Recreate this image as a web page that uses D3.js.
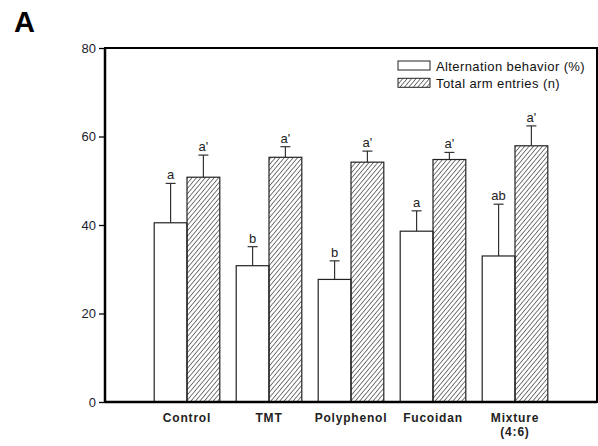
<!DOCTYPE html>
<html>
<head>
<meta charset="utf-8">
<script src="https://cdn.jsdelivr.net/npm/d3@7"></script>
<style>
  body { margin: 0; background: #fff; }
  svg text { font-family: Arial, "Liberation Sans", sans-serif; }
</style>
</head>
<body>
<div id="chart"></div>
<script>
// data
var groups = ["Control", "TMT", "Polyphenol", "Fucoidan", "Mixture (4:6)"];
var alternation = [40.5, 30.8, 27.7, 38.6, 33.0];
var alternationErr = [8.9, 4.3, 4.2, 4.6, 11.7];
var alternationSig = ["a", "b", "b", "a", "ab"];
var entries = [50.8, 55.3, 54.2, 54.8, 57.9];
var entriesErr = [5.0, 2.4, 2.5, 1.6, 4.5];
var entriesSig = ["a'", "a'", "a'", "a'", "a'"];
var yTicks = [0, 20, 40, 60, 80];
var legendLabels = ["Alternation behavior (%)", "Total arm entries (n)"];

var margin = {top: 48, right: 1, bottom: 44, left: 105},
    width = 598 - margin.left - margin.right,
    height = 446 - margin.top - margin.bottom;

var svg = d3.select("#chart")
    .append("svg")
    .attr("width", 598)
    .attr("height", 446);

var defs = svg.append("defs");
defs.append("pattern")
    .attr("id", "hatch")
    .attr("patternUnits", "userSpaceOnUse")
    .attr("width", 3.4)
    .attr("height", 4)
    .attr("patternTransform", "rotate(40)")
    .append("line")
    .attr("x1", 0).attr("y1", 0)
    .attr("x2", 0).attr("y2", 4)
    .attr("stroke", "#222")
    .attr("stroke-width", 1.2);

svg.append("text")
    .attr("x", 14)
    .attr("y", 32)
    .style("font-size", "29px")
    .style("font-weight", "bold")
    .text("A");

var g = svg.append("g")
    .attr("transform", "translate(" + margin.left + "," + margin.top + ")");

var x = d3.scaleLinear().domain([0, 6]).range([0, width]);
var y = d3.scaleLinear().domain([0, 80]).range([height, 0]);
var barW = x(0.4) - x(0);

// frame
g.append("rect")
    .attr("x", 0).attr("y", 0)
    .attr("width", width).attr("height", height)
    .attr("fill", "none")
    .attr("stroke", "#000")
    .attr("stroke-width", 2);

var yAxis = g.append("g")
    .call(d3.axisLeft(y).tickValues(yTicks).tickSize(6).tickPadding(3));
yAxis.select(".domain").remove();
yAxis.selectAll("line").attr("stroke-width", 1.3);
yAxis.selectAll("text").style("font-size", "13px").attr("fill", "#1a1a2e");

function drawSeries(name, vals, errs, sigs, offset, fill) {
    var bars = g.selectAll("." + name)
        .data(vals)
        .enter();
    bars.append("line")
        .attr("x1", function(d, i) { return x(i + 1 + offset + 0.2); })
        .attr("x2", function(d, i) { return x(i + 1 + offset + 0.2); })
        .attr("y1", function(d) { return y(d); })
        .attr("y2", function(d, i) { return y(d + errs[i]); })
        .attr("stroke", "#333")
        .attr("stroke-width", 1.2);
    bars.append("line")
        .attr("x1", function(d, i) { return x(i + 1 + offset + 0.2) - 5; })
        .attr("x2", function(d, i) { return x(i + 1 + offset + 0.2) + 5; })
        .attr("y1", function(d, i) { return y(d + errs[i]); })
        .attr("y2", function(d, i) { return y(d + errs[i]); })
        .attr("stroke", "#333")
        .attr("stroke-width", 1.2);
    bars.append("rect")
        .attr("class", name)
        .attr("x", function(d, i) { return x(i + 1 + offset); })
        .attr("y", function(d) { return y(d); })
        .attr("width", barW)
        .attr("height", function(d) { return height - y(d); })
        .attr("fill", fill)
        .attr("stroke", "#222")
        .attr("stroke-width", 1.2);
    bars.append("text")
        .attr("x", function(d, i) { return x(i + 1 + offset + 0.2); })
        .attr("y", function(d, i) { return y(d + errs[i]) - 4; })
        .attr("text-anchor", "middle")
        .style("font-size", "13px")
        .attr("fill", "#222")
        .text(function(d, i) { return sigs[i]; });
}

drawSeries("alt", alternation, alternationErr, alternationSig, -0.4, "#fff");
drawSeries("ent", entries, entriesErr, entriesSig, 0, "url(#hatch)");

// redraw bottom and left edge over bars
g.append("line").attr("x1", 0).attr("x2", width).attr("y1", height).attr("y2", height)
    .attr("stroke", "#000").attr("stroke-width", 2.5);
g.append("line").attr("x1", 0).attr("x2", 0).attr("y1", 0).attr("y2", height)
    .attr("stroke", "#000").attr("stroke-width", 2.5);

// category labels
var cat = g.selectAll(".cat")
    .data(groups)
    .enter().append("text")
    .attr("class", "cat")
    .attr("x", function(d, i) { return x(i + 1); })
    .attr("y", height + 20)
    .attr("text-anchor", "middle")
    .style("font-size", "12px")
    .style("font-weight", "bold")
    .style("letter-spacing", "0.8px")
    .attr("fill", "#222");
cat.each(function(d) {
    var parts = d.split(" ");
    var t = d3.select(this);
    parts.forEach(function(p, k) {
        t.append("tspan")
            .attr("x", t.attr("x"))
            .attr("dy", k === 0 ? 0 : 14)
            .text(p);
    });
});

// legend
var legend = g.selectAll(".legend")
    .data(legendLabels)
    .enter().append("g")
    .attr("class", "legend")
    .attr("transform", function(d, i) { return "translate(293," + (13 + i * 17.3) + ")"; });
legend.append("rect")
    .attr("width", 32)
    .attr("height", 9)
    .attr("fill", function(d, i) { return i === 0 ? "#fff" : "url(#hatch)"; })
    .attr("stroke", "#222")
    .attr("stroke-width", 1);
legend.append("text")
    .attr("x", 38)
    .attr("y", 9.5)
    .style("font-size", "13px")
    .style("letter-spacing", "0.4px")
    .attr("fill", "#111")
    .text(function(d) { return d; });
</script>
</body>
</html>
